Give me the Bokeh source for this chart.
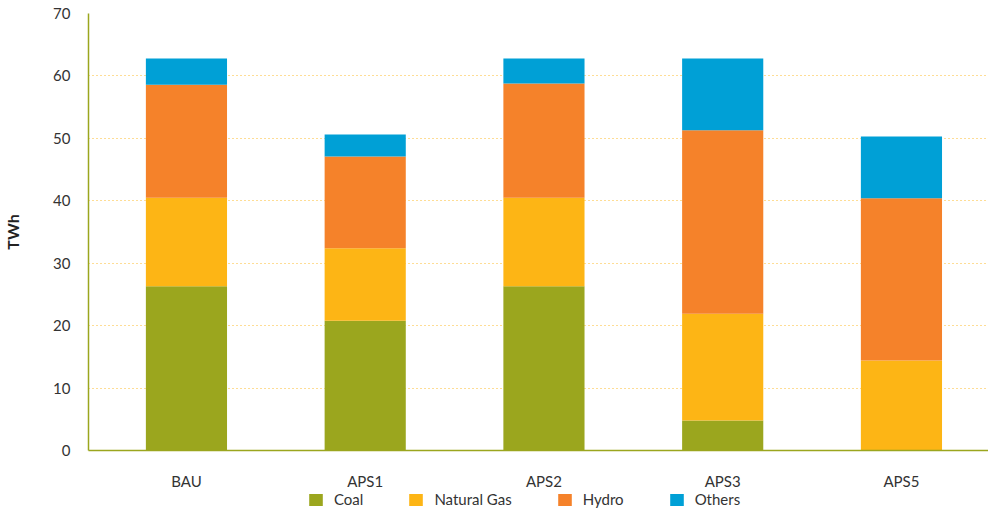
from bokeh.plotting import figure
from bokeh.layouts import column
from bokeh.models import Range1d, ColumnDataSource, Legend, LegendItem, FixedTicker
from bokeh.embed import file_html
from bokeh.resources import INLINE

categories = ["BAU", "APS1", "APS2", "APS3", "APS5"]
coal = [26.3, 20.8, 26.3, 4.8, 0.0]
natural_gas = [14.2, 11.6, 14.2, 17.1, 14.4]
hydro = [18.1, 14.7, 18.3, 29.4, 26.0]
others = [4.2, 3.5, 4.0, 11.5, 9.9]
series = ["Coal", "Natural Gas", "Hydro", "Others"]
colors = ["#9BA61E", "#FDB515", "#F5822A", "#00A0D6"]
y_ticks = [0, 10, 20, 30, 40, 50, 60, 70]

xs = list(range(len(categories)))
source = ColumnDataSource(dict(x=xs, Coal=coal, **{"Natural Gas": natural_gas}, Hydro=hydro, Others=others))

p = figure(width=988, height=493, output_backend="svg", toolbar_location=None,
           x_range=Range1d(-0.548, 4.487), y_range=Range1d(0, 70),
           min_border_left=79, min_border_right=0, min_border_top=13, min_border_bottom=43)
p.outline_line_color = None
p.background_fill_color = "white"

rs = p.vbar_stack(series, x="x", width=0.454, source=source, color=colors, line_color=None)

FONT = "Lato"
p.xgrid.grid_line_color = None
p.ygrid.grid_line_color = "#FDB515"
p.ygrid.grid_line_dash = "1 3"
p.ygrid.grid_line_width = 1
p.ygrid.grid_line_alpha = 0.9

p.yaxis.ticker = FixedTicker(ticks=y_ticks)
p.xaxis.ticker = FixedTicker(ticks=xs)
p.xaxis.major_label_overrides = {i: c for i, c in enumerate(categories)}

for ax in (p.xaxis[0], p.yaxis[0]):
    ax.axis_line_color = "#9BA61E"
    ax.axis_line_width = 1.5
    ax.major_tick_line_color = None
    ax.minor_tick_line_color = None
    ax.major_label_text_font = FONT
    ax.major_label_text_font_size = "15px"
    ax.major_label_text_color = "#333333"

p.yaxis.major_label_standoff = 12
p.xaxis.major_label_standoff = 15
p.yaxis.axis_label = "TWh"
p.yaxis.axis_label_text_font = FONT
p.yaxis.axis_label_text_font_style = "bold"
p.yaxis.axis_label_text_font_size = "16px"
p.yaxis.axis_label_text_color = "#222222"
p.yaxis.axis_label_standoff = 28

# Legend strip below the chart
lg = figure(width=988, height=15, output_backend="svg", toolbar_location=None,
            x_range=Range1d(-0.548, 4.487), y_range=Range1d(1000, 1001),
            min_border_left=0, min_border_right=0, min_border_top=0, min_border_bottom=0)
lg.axis.visible = False
lg.grid.grid_line_color = None
lg.outline_line_color = None
lrs = lg.vbar_stack(series, x="x", width=0.454, source=source, color=colors, line_color=None)

items = [LegendItem(label=s, renderers=[r]) for s, r in zip(series, lrs)]
legend = Legend(items=items, orientation="horizontal", location=(219, 0),
                glyph_width=17, glyph_height=15, label_height=15, label_standoff=10, spacing=44,
                padding=0, margin=0, border_line_alpha=0, background_fill_alpha=0,
                label_text_font=FONT, label_text_font_size="15px", label_text_color="#333333")
lg.add_layout(legend, "center")

layout = column(p, lg, spacing=0)
open("out.html", "w").write(file_html(layout, INLINE))
